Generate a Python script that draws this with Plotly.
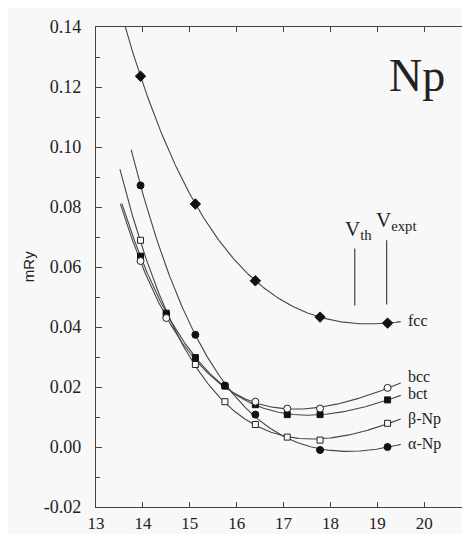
import numpy as np
import plotly.graph_objects as go

# ---- data ----
fcc_x = [13.95, 15.12, 16.40, 17.78, 19.22]
fcc_y = [0.1236, 0.0810, 0.0554, 0.0433, 0.0413]

alpha_x = [13.95, 15.12, 15.75, 16.40, 17.78, 19.22]
alpha_y = [0.0872, 0.0374, 0.0205, 0.0108, -0.0010, 0.0000]

beta_x = [13.95, 14.50, 15.12, 15.75, 16.40, 17.08, 17.78, 19.22]
beta_y = [0.0689, 0.0440, 0.0275, 0.0151, 0.0075, 0.0033, 0.0023, 0.0079]

bct_x = [13.95, 14.50, 15.12, 15.75, 16.40, 17.08, 17.78, 19.22]
bct_y = [0.0636, 0.0446, 0.0298, 0.0203, 0.0141, 0.0108, 0.0108, 0.0157]

bcc_x = [13.95, 14.50, 16.40, 17.08, 17.78, 19.22]
bcc_y = [0.0620, 0.0430, 0.0151, 0.0128, 0.0128, 0.0197]

# fcc curve crossing the top of the frame
fcc_top_x = [13.62]
fcc_top_y = [0.140]

# tick labels
y_tickvals = [-0.02, 0.00, 0.02, 0.04, 0.06, 0.08, 0.10, 0.12, 0.14]
y_ticktext = ["-0.02", "0.00", "0.02", "0.04", "0.06", "0.08", "0.10", "0.12", "0.14"]

# extent of each fitted curve (volume range)
curve_start = {"fcc": 13.50, "alpha": 13.75, "beta": 13.51, "bct": 13.55, "bcc": 13.52}
curve_end = 19.50

v_th = 18.52
v_expt = 19.20

series_labels = ["fcc", "bcc", "bct", "β-Np", "α-Np"]
label_y = [0.0422, 0.0235, 0.0177, 0.0095, 0.0010]

LINE = "#454545"
SERIF = "Liberation Serif"


def bm_fit(xs, ys, x0, x1):
    t = np.asarray(xs) ** (-2.0 / 3.0)
    c = np.polyfit(t, np.asarray(ys), 3)
    xx = np.linspace(x0, x1, 300)
    return xx, np.polyval(c, xx ** (-2.0 / 3.0))


fig = go.Figure()

series = [
    ("fcc", fcc_x, fcc_y, dict(symbol="diamond", size=8, color="#111", line=dict(color="#111", width=1))),
    ("alpha", alpha_x, alpha_y, dict(symbol="circle", size=7, color="#111", line=dict(color="#111", width=1))),
    ("beta", beta_x, beta_y, dict(symbol="square", size=6, color="#f8f8f8", line=dict(color="#222", width=1))),
    ("bct", bct_x, bct_y, dict(symbol="square", size=6, color="#111", line=dict(color="#111", width=1))),
    ("bcc", bcc_x, bcc_y, dict(symbol="circle", size=7, color="#f8f8f8", line=dict(color="#222", width=1))),
]

fit_extra = {"fcc": (fcc_top_x, fcc_top_y)}

for name, xs, ys, mk in series:
    fx, fy = list(xs), list(ys)
    if name in fit_extra:
        fx += fit_extra[name][0]
        fy += fit_extra[name][1]
    cx, cy = bm_fit(fx, fy, curve_start[name], curve_end)
    fig.add_trace(go.Scatter(x=cx, y=cy, mode="lines", line=dict(color=LINE, width=1.1),
                             showlegend=False, hoverinfo="skip"))
for name, xs, ys, mk in series:
    fig.add_trace(go.Scatter(x=xs, y=ys, mode="markers", marker=mk, showlegend=False))

# curve labels
for txt, yv in zip(series_labels, label_y):
    fig.add_annotation(x=19.62, y=yv, text=txt, showarrow=False, xanchor="left", yanchor="middle",
                       font=dict(family=SERIF, size=16, color="#222"))

# V_th / V_expt markers
fig.add_shape(type="line", x0=v_th, x1=v_th, y0=0.0472, y1=0.0662, line=dict(color=LINE, width=1.2))
fig.add_shape(type="line", x0=v_expt, x1=v_expt, y0=0.0475, y1=0.0689, line=dict(color=LINE, width=1.2))
fig.add_annotation(x=v_th + 0.08, y=0.0672, text="V<sub>th</sub>", showarrow=False, xanchor="center",
                   yanchor="bottom", font=dict(family=SERIF, size=21, color="#222"))
fig.add_annotation(x=v_expt + 0.2, y=0.0702, text="V<sub>expt</sub>", showarrow=False, xanchor="center",
                   yanchor="bottom", font=dict(family=SERIF, size=21, color="#222"))

# element label
fig.add_annotation(x=19.85, y=0.1240, text="Np", showarrow=False, xanchor="center", yanchor="middle",
                   font=dict(family=SERIF, size=46, color="#222"))

# y axis title
fig.add_annotation(xref="paper", yref="paper", x=-0.181, y=0.5, text="mRy", textangle=-90,
                   showarrow=False, xanchor="center", yanchor="middle",
                   font=dict(family="Liberation Sans", size=15, color="#222"))

fig.update_xaxes(range=[13, 21], dtick=1, tick0=13, ticks="inside", ticklen=5, tickcolor="#444",
                 showline=True, linecolor="#444", linewidth=1.3, mirror="ticks", showgrid=False,
                 zeroline=False, ticklabeloverflow="allow", automargin=False,
                 tickfont=dict(family=SERIF, size=17, color="#222"))
fig.update_yaxes(range=[-0.02, 0.14], tickmode="array", tickvals=y_tickvals, ticktext=y_ticktext,
                 ticks="inside", ticklen=6,
                 tickcolor="#444", showline=True, linecolor="#444", linewidth=1.3, mirror="ticks",
                 showgrid=False, zeroline=False, ticklabelstandoff=10, ticklabeloverflow="allow",
                 automargin=False,
                 minor=dict(tickmode="linear", tick0=0, dtick=0.01, ticks="inside", ticklen=4,
                            tickcolor="#444", showgrid=False),
                 tickfont=dict(family=SERIF, size=18, color="#222"))

fig.update_layout(width=470, height=534, margin=dict(l=88, r=7, t=19, b=35),
                  paper_bgcolor="#f8f8f8", plot_bgcolor="#f8f8f8", showlegend=False)

fig.write_html("out.html")
